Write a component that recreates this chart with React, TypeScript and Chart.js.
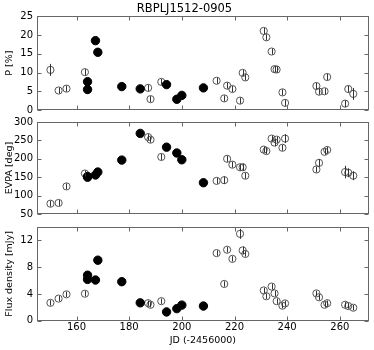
import React, { useEffect, useRef } from 'react';
import { Chart, registerables } from 'chart.js';

Chart.register(...registerables);

const chartTitle = 'RBPLJ1512-0905';
const xTitle = 'JD (-2456000)';
const xTicks = [160, 180, 200, 220, 240, 260];

// open symbols
const jdOpen = [150.1, 153.2, 156.2, 163.2, 187.2, 188.1, 192.2, 213.2, 216.1, 217.2, 219.2, 222.1, 223.1, 224.1, 231.1, 232.1, 234.1, 235.2, 236.0, 238.2, 239.2, 251.1, 252.1, 254.2, 255.2, 262.0, 263.2, 265.1];
const pOpen = [10.7, 5.2, 5.7, 10.1, 5.9, 2.9, 7.5, 7.8, 3.1, 6.5, 5.6, 2.5, 9.9, 8.7, 21.1, 19.4, 15.6, 10.9, 10.8, 4.7, 1.9, 6.4, 4.9, 5.0, 8.8, 1.7, 5.6, 4.3];
const pOpenErr = [1.6, 0.8, 0.8, 0.8, 0.8, 0.8, 0.8, 0.8, 0.8, 0.8, 0.8, 0.8, 0.8, 0.8, 0.8, 0.8, 0.8, 0.8, 0.8, 0.8, 0.8, 0.8, 0.8, 0.8, 0.8, 0.9, 0.9, 1.6];
const evpaOpen = [78, 80, 125, 160, 259, 252, 205, 140, 142, 200, 184, 177, 177, 154, 225, 221, 255, 244, 252, 230, 255, 171, 189, 219, 224, 164, 162, 154];
const evpaOpenErr = [8, 8, 8, 8, 8, 8, 8, 8, 10, 8, 8, 8, 10, 8, 8, 8, 8, 10, 8, 8, 12, 8, 10, 8, 8, 17, 12, 12];
const fluxOpen = [2.67, 3.3, 3.94, 4.03, 2.62, 2.38, 2.92, 10.1, 5.49, 10.6, 9.24, 12.98, 10.5, 9.97, 4.52, 3.65, 5.1, 4.08, 2.92, 2.24, 2.58, 4.08, 3.5, 2.38, 2.62, 2.38, 2.19, 1.94];
const fluxOpenErr = [0.4, 0.4, 0.4, 0.4, 0.4, 0.4, 0.4, 0.4, 0.4, 0.4, 0.4, 0.75, 0.6, 0.4, 0.4, 0.4, 0.4, 0.4, 0.4, 0.4, 0.4, 0.4, 0.4, 0.4, 0.4, 0.4, 0.4, 0.4];

// filled symbols
const jdFilled = [164.2, 164.2, 167.2, 168.1, 177.2, 184.2, 194.2, 198.1, 200.0, 208.2];
const pFilled = [7.55, 5.47, 18.5, 15.4, 6.25, 5.64, 6.77, 2.86, 3.9, 5.9];
const evpaFilled = [152, 150, 156, 164, 196.5, 269, 231.6, 215.8, 197.4, 135];
const fluxFilled = [6.8, 6.17, 6.08, 9.04, 5.83, 2.67, 1.31, 1.8, 2.33, 2.19];

const FONT = 'DejaVu Sans';

const framePlugin = {
  id: 'frameTicks',
  afterDatasetsDraw(chart: any) {
    const { ctx, chartArea: a, scales } = chart;
    const ys = scales.y;
    const xs = scales.x;
    ctx.save();
    // error bars
    chart.data.datasets.forEach((ds: any, i: number) => {
      if (!ds.errors) return;
      const meta = chart.getDatasetMeta(i);
      ctx.strokeStyle = '#333';
      ctx.lineWidth = 1;
      meta.data.forEach((pt: any, j: number) => {
        const e = ds.errors[j];
        const v = ds.data[j].y;
        const y1 = ys.getPixelForValue(v - e);
        const y2 = ys.getPixelForValue(v + e);
        const px = Math.round(pt.x) + 0.5;
        ctx.beginPath();
        ctx.moveTo(px, y1);
        ctx.lineTo(px, y2);
        ctx.stroke();
      });
    });
    // frame
    const L = Math.round(a.left) + 0.5;
    const R = Math.round(a.right) - 0.5;
    const T = Math.round(a.top) + 0.5;
    const B = Math.round(a.bottom) - 0.5;
    ctx.strokeStyle = '#666';
    ctx.lineWidth = 1;
    ctx.strokeRect(L, T, R - L, B - T);
    const tl = 4;
    ctx.beginPath();
    xTicks.forEach((v) => {
      const px = Math.round(xs.getPixelForValue(v)) + 0.5;
      ctx.moveTo(px, B);
      ctx.lineTo(px, B - tl);
      ctx.moveTo(px, T);
      ctx.lineTo(px, T + tl);
    });
    ys.ticks.forEach((t: any) => {
      const py = Math.round(ys.getPixelForValue(t.value)) + 0.5;
      ctx.moveTo(L, py);
      ctx.lineTo(L + tl, py);
      ctx.moveTo(R, py);
      ctx.lineTo(R - tl, py);
    });
    ctx.stroke();
    ctx.restore();
  },
};

type PanelProps = {
  top: number;
  height: number;
  padTop: number;
  padBottom: number;
  yMin: number;
  yMax: number;
  yStep: number;
  yTitle: string;
  openY: number[];
  openErr: number[];
  filledY: number[];
  showTitle: boolean;
  showX: boolean;
};

function Panel(props: PanelProps) {
  const ref = useRef<HTMLCanvasElement | null>(null);
  useEffect(() => {
    if (!ref.current) return;
    const chart = new Chart(ref.current, {
      type: 'scatter',
      data: {
        datasets: [
          {
            data: jdFilled.map((x, i) => ({ x, y: props.filledY[i] })),
            pointRadius: 4.2,
            pointBackgroundColor: '#000',
            pointBorderColor: '#000',
            pointBorderWidth: 1,
          } as any,
          {
            data: jdOpen.map((x, i) => ({ x, y: props.openY[i] })),
            errors: props.openErr,
            pointRadius: 3.6,
            pointBackgroundColor: 'rgba(255,255,255,0)',
            pointBorderColor: '#555',
            pointBorderWidth: 1,
          } as any,
        ],
      },
      options: {
        animation: false,
        responsive: false,
        events: [],
        layout: { padding: { left: 0, right: 5, top: props.padTop, bottom: props.padBottom } },
        plugins: {
          legend: { display: false },
          tooltip: { enabled: false },
          title: props.showTitle
            ? {
                display: true,
                text: chartTitle,
                color: '#000',
                font: { family: FONT, size: 11.5, weight: 'normal' },
                padding: { top: 2.5, bottom: 0 },
              }
            : { display: false },
        },
        scales: {
          x: {
            type: 'linear',
            min: 145,
            max: 271,
            display: props.showX,
            grid: { display: false, drawTicks: false },
            border: { display: false },
            afterBuildTicks: (s: any) => {
              s.ticks = xTicks.map((v) => ({ value: v }));
            },
            ticks: { color: '#000', font: { family: FONT, size: 10 }, padding: 1, maxRotation: 0 },
            title: {
              display: true,
              text: xTitle,
              color: '#000',
              font: { family: FONT, size: 9.5 },
              padding: { top: 0, bottom: 3 },
            },
          },
          y: {
            type: 'linear',
            min: props.yMin,
            max: props.yMax,
            grid: { display: false, drawTicks: false },
            border: { display: false },
            ticks: { stepSize: props.yStep, color: '#000', font: { family: FONT, size: 10 }, padding: 4 },
            afterFit: (s: any) => {
              s.width = 37;
            },
            title: {
              display: true,
              text: props.yTitle,
              color: '#000',
              font: { family: FONT, size: 9.5 },
              padding: { top: 4.3, bottom: 0 },
            },
          },
        },
      } as any,
      plugins: [framePlugin],
    });
    return () => chart.destroy();
  }, []);
  return (
    <canvas
      ref={ref}
      width={374}
      height={props.height}
      style={{ position: 'absolute', left: 0, top: props.top, width: 374, height: props.height }}
    />
  );
}

export default function App() {
  return (
    <div style={{ position: 'absolute', left: 0, top: 0, width: 374, height: 350, background: '#fff' }}>
      <Panel top={0} height={120} padTop={0} padBottom={8.3} yMin={0} yMax={25} yStep={5} yTitle="P [%]"
        openY={pOpen} openErr={pOpenErr} filledY={pFilled} showTitle={true} showX={false} />
      <Panel top={112} height={112} padTop={9} padBottom={8} yMin={50} yMax={300} yStep={50} yTitle="EVPA [deg]"
        openY={evpaOpen} openErr={evpaOpenErr} filledY={evpaFilled} showTitle={false} showX={false} />
      <Panel top={217} height={133} padTop={8.7} padBottom={0.9} yMin={0} yMax={14} yStep={2} yTitle="Flux density [mJy]"
        openY={fluxOpen} openErr={fluxOpenErr} filledY={fluxFilled} showTitle={false} showX={true} />
    </div>
  );
}
